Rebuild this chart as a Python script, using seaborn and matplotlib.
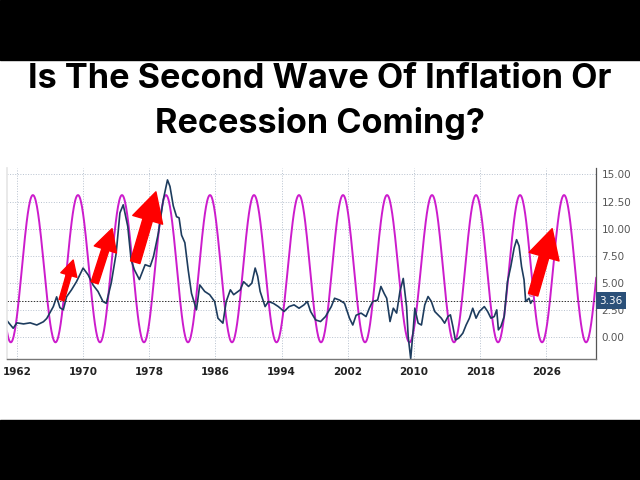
import numpy as np
import pandas as pd
import seaborn as sns
import matplotlib.pyplot as plt
from matplotlib.patches import Rectangle

# inflation (YoY %)
cpi_year = [1960.8, 1961.55, 1962.0, 1962.8, 1963.6, 1964.4, 1965.2, 1965.6, 1966.4, 1966.8,
            1967.2, 1967.6, 1968.0, 1968.6, 1969.2, 1970.0, 1970.6, 1971.2, 1971.8, 1972.4,
            1972.8, 1973.4, 1974.0, 1974.45, 1974.85, 1975.4, 1975.8, 1976.2, 1976.8, 1977.5,
            1978.1, 1978.5, 1979.1, 1979.7, 1980.2, 1980.5, 1980.9, 1981.3, 1981.6, 1981.9,
            1982.3, 1982.7, 1983.1, 1983.7,
            1984.1, 1984.7, 1985.3, 1985.9, 1986.3, 1986.9, 1987.3, 1987.8, 1988.2, 1989.0,
            1989.4, 1990.0, 1990.4, 1990.8, 1991.1, 1991.4, 1992.0, 1992.4, 1993.0, 1993.6,
            1994.3, 1994.9, 1995.5, 1996.1, 1996.7, 1997.1, 1997.5, 1998.1, 1998.7, 1999.3,
            2000.0, 2000.4, 2001.0, 2001.6, 2002.2, 2002.6, 2003.0, 2003.6, 2004.2, 2004.6,
            2005.0, 2005.6, 2006.0, 2006.4, 2006.7, 2007.1, 2007.5, 2007.9, 2008.3, 2008.7,
            2009.1, 2009.3, 2009.6, 2009.9, 2010.1, 2010.5, 2010.9, 2011.3, 2011.7, 2012.1,
            2012.5, 2012.9, 2013.3, 2013.7, 2014.1, 2014.4, 2014.7, 2015.0, 2015.4, 2015.9,
            2016.3, 2016.7, 2017.1, 2017.5, 2017.9, 2018.5, 2018.9, 2019.3, 2019.7, 2020.0,
            2020.2, 2020.5, 2020.9, 2021.3, 2021.7, 2022.1, 2022.4, 2022.7, 2023.0, 2023.3,
            2023.5, 2023.9, 2024.1, 2024.3]
cpi_val = [1.5, 0.8, 1.3, 1.2, 1.3, 1.1, 1.4, 1.7, 2.8, 3.7,
           2.7, 2.5, 3.7, 4.35, 5.1, 6.36, 5.74, 4.8, 4.2, 3.27,
           3.1, 4.97, 7.75, 11.45, 12.2, 10.2, 7.13, 6.2, 5.3, 6.67,
           6.5, 7.4, 9.6, 12.7, 14.5, 13.9, 12.1, 11.1, 11.0, 9.4,
           8.7, 6.2, 4.03, 2.5,
           4.8, 4.2, 3.9, 3.27, 1.73, 1.27, 3.27, 4.35, 3.9, 4.35,
           5.1, 4.66, 4.97, 6.36, 5.6, 4.2, 2.8, 3.27, 3.1, 2.8,
           2.35, 2.8, 2.96, 2.65, 2.96, 3.27, 2.35, 1.57, 1.42, 1.88,
           2.8, 3.57, 3.4, 3.1, 1.73, 1.1, 2.0, 2.2, 1.88, 2.65,
           3.27, 3.4, 4.66, 4.0, 3.57, 1.42, 2.65, 2.2, 4.2, 5.4,
           2.8, 0.0, -2.0, 0.65, 2.65, 1.27, 1.1, 2.96, 3.73, 3.27,
           2.35, 2.04, 1.73, 1.27, 1.88, 2.04, 0.96, -0.28, -0.12, 0.34,
           1.1, 1.73, 2.65, 1.73, 2.35, 2.8, 2.35, 1.73, 1.88, 2.5,
           0.65, 0.96, 1.88, 5.1, 6.5, 8.2, 8.98, 8.4, 6.5, 5.28,
           3.27, 3.57, 3.1, 3.36]
last_value = 3.36

# cycle overlay: turning points (year, level), alternating
cycle_year = [1958.6, 1961.26, 1963.93, 1966.66, 1969.38, 1972.04, 1974.70, 1977.36, 1980.02,
              1982.68, 1985.34, 1988.0, 1990.66, 1993.38, 1996.10, 1998.76, 2001.42, 2004.08,
              2006.74, 2009.46, 2012.18, 2014.84, 2017.50, 2020.16, 2022.82, 2025.48, 2028.14,
              2030.80, 2033.46]
cycle_val = [13.1, -0.5] * 14 + [13.1]

# red arrows: (tail year, tail value, tip year, tip value, size)
arrows = [
    (1967.4, 3.4, 1968.8, 7.1, 15),
    (1971.4, 5.0, 1973.5, 10.0, 21),
    (1976.3, 6.9, 1978.8, 13.4, 28),
    (2024.4, 3.9, 2026.7, 10.0, 28),
]

xticks = [1962, 1970, 1978, 1986, 1994, 2002, 2010, 2018, 2026]
yticks = [0, 2.5, 5, 7.5, 10, 12.5, 15]

title_lines = ['Is The Second Wave Of Inflation Or', 'Recession Coming?']

# smooth half-cosine between turning points
cx, cy = [], []
for i in range(len(cycle_year) - 1):
    t = np.linspace(0, 1, 40)
    cx.extend(cycle_year[i] + (cycle_year[i + 1] - cycle_year[i]) * t)
    cy.extend(cycle_val[i] + (cycle_val[i + 1] - cycle_val[i]) * (1 - np.cos(np.pi * t)) / 2)
cycle = pd.DataFrame({'year': cx, 'value': cy})
cpi = pd.DataFrame({'year': cpi_year, 'value': cpi_val})

sns.set_theme(style='white')
plt.rcParams['font.family'] = ['DejaVu Sans']

fig = plt.figure(figsize=(6.4, 4.8), dpi=100)
fig.patch.set_facecolor('white')
fig.add_artist(Rectangle((0, 1 - 60 / 480), 1, 60 / 480, transform=fig.transFigure,
                         color='black', zorder=0))
fig.add_artist(Rectangle((0, 0), 1, 60 / 480, transform=fig.transFigure,
                         color='black', zorder=0))

t1 = fig.text(0.5, 0.835, title_lines[0], ha='center', va='center',
              fontsize=20, fontweight='bold', family=['Inter', 'DejaVu Sans'], color='black')
t2 = fig.text(0.5, 0.742, title_lines[1], ha='center', va='center',
              fontsize=20, fontweight='bold', family=['Inter', 'DejaVu Sans'], color='black')
# size the title so the first line spans ~584 px like the original
r = fig.canvas.get_renderer()
w = t1.get_window_extent(r).width
t1.set_fontsize(20 * 584 / w)
t2.set_fontsize(20 * 584 / w)

ax = fig.add_axes([7 / 640, 121 / 480, 589 / 640, 191 / 480])

sns.lineplot(x='year', y='value', data=cycle, ax=ax, color='#cc1ccc', linewidth=1.4,
             sort=False, estimator=None)
sns.lineplot(x='year', y='value', data=cpi, ax=ax, color='#1d3c5e', linewidth=1.2,
             sort=False, estimator=None)

ax.axhline(last_value, color='#333333', linestyle=(0, (1.5, 1.5)), linewidth=0.7)
ax.plot(cpi_year[-1] - 0.1, 4.1, marker='o', ms=4, mfc='#f0b8e0', mec='#d060b0', mew=0.8)

for x0, y0, x1, y1, s in arrows:
    ax.annotate('', xy=(x1, y1), xytext=(x0, y0),
                arrowprops=dict(arrowstyle='simple,head_length=%.2f,head_width=%.2f,tail_width=%.2f'
                                % (s * 0.75, s * 0.8, s * 0.25),
                                color='#ff0000', shrinkA=0, shrinkB=0, mutation_scale=1))

ax.set_xlim(1960.8, 2032.0)
ax.set_ylim(-2.04, 15.6)
ax.set_xticks(xticks)
ax.set_yticks(yticks)
ax.set_xticklabels([str(x) for x in xticks], fontsize=7.5, fontweight='bold', color='#222222')
ax.set_yticklabels(['%.2f' % y for y in yticks], fontsize=7.5, color='#555555')
ax.yaxis.tick_right()
ax.tick_params(axis='both', length=0, pad=4)
ax.tick_params(axis='x', pad=6)
ax.grid(True, linestyle=':', color='#b8c2cf', linewidth=0.7)
ax.set_xlabel('')
ax.set_ylabel('')

ax.spines['top'].set_visible(False)
ax.spines['left'].set_color('#e6e6e6')
ax.spines['right'].set_color('#555555')
ax.spines['bottom'].set_color('#777777')
ax.spines['right'].set_linewidth(0.9)
ax.spines['bottom'].set_linewidth(1.0)

ax.text(1.006, last_value, '%.2f' % last_value, transform=ax.get_yaxis_transform(),
        ha='left', va='center', fontsize=7.5, color='white', zorder=5, clip_on=False,
        bbox=dict(boxstyle='square,pad=0.3', fc='#2b5079', ec='none'))

fig.savefig('out.png', dpi=100)
